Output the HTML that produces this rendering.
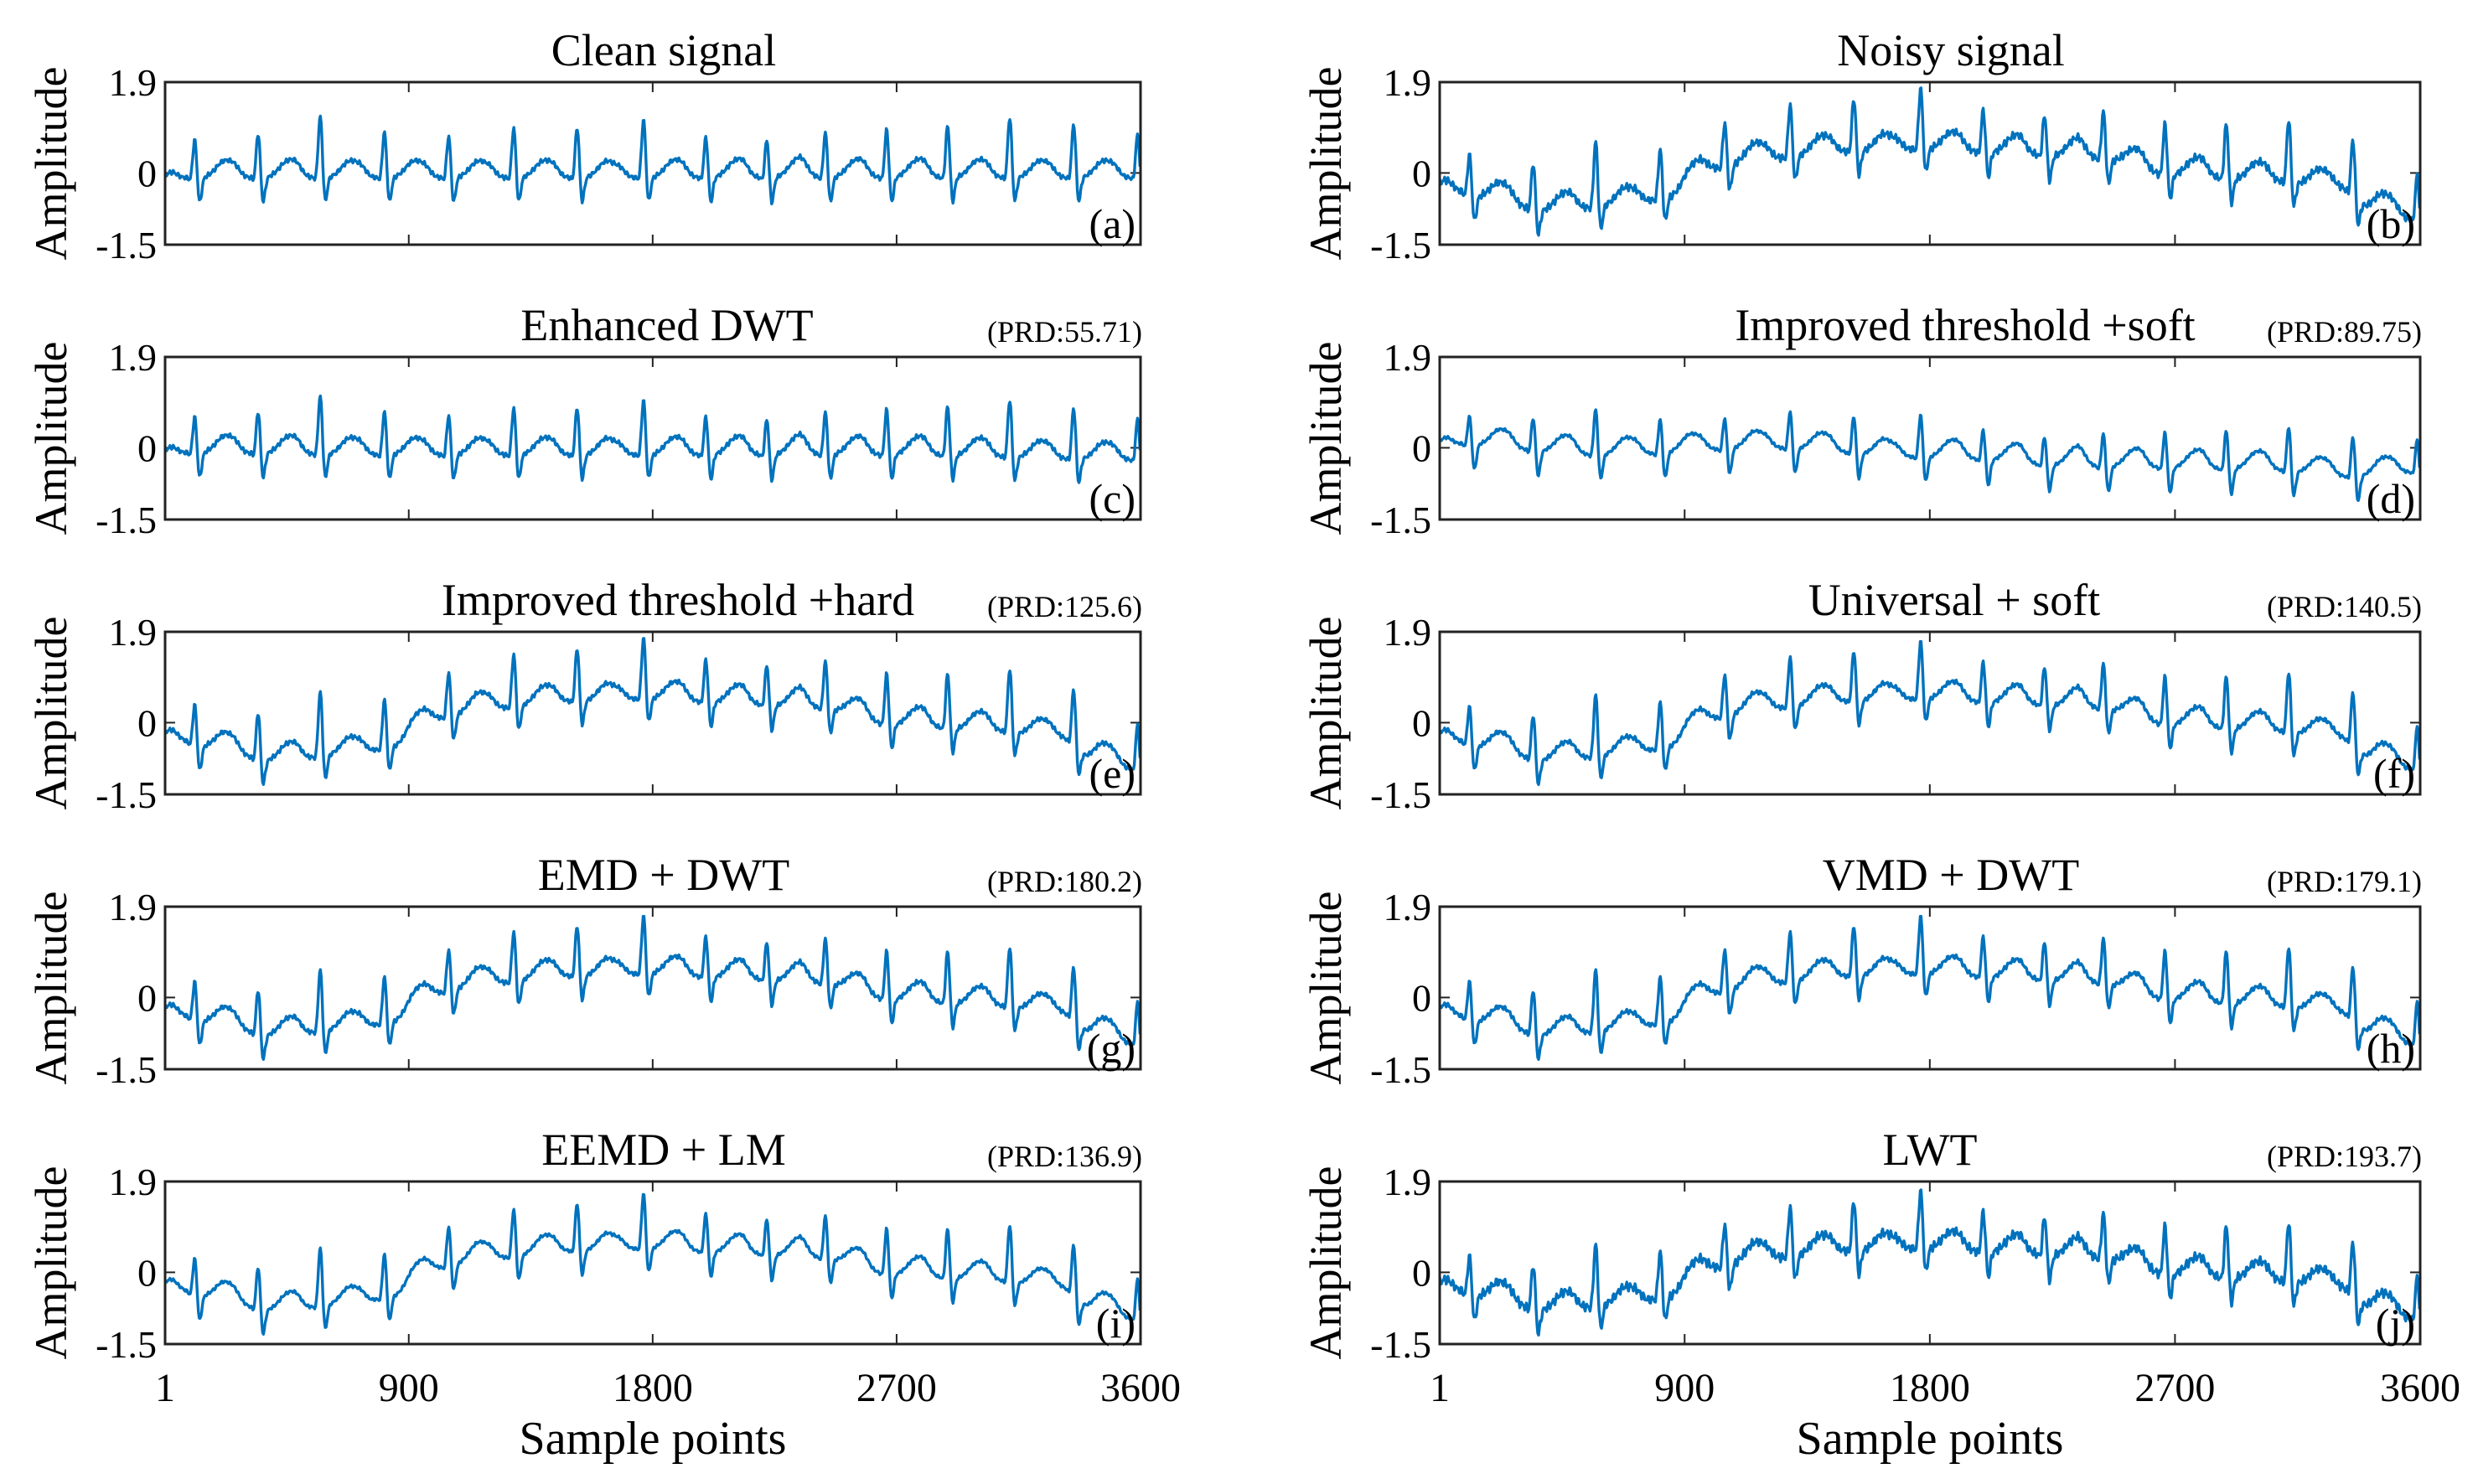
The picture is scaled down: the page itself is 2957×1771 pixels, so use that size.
<!DOCTYPE html>
<html><head><meta charset="utf-8"><style>
html,body{margin:0;padding:0;background:#fff;}
svg{display:block;font-family:"Liberation Serif",serif;}
</style></head><body>
<svg id="fig" width="2957" height="1771" viewBox="0 0 2957 1771"></svg>
<script>
// ---- data ----
const xTicks = [1, 900, 1800, 2700, 3600];
const yTicks = [1.9, 0, -1.5];
const beatPos = [111, 345, 574, 811, 1048, 1288, 1522, 1767, 1997, 2222, 2438, 2664, 2889, 3118, 3354, 3590];
const cleanAmps = [0.87, 1.0, 1.37, 1.04, 0.95, 1.12, 1.13, 1.29, 0.92, 0.87, 1.02, 1.08, 1.17, 1.34, 1.2, 0.98];
const cleanBase = [[0,-0.1],[3600,-0.1]];
const dwtBase = [[0,-0.1],[900,-0.15],[1800,-0.15],[2700,-0.15],[3600,-0.25]];
const softBase = [[0,0.1],[600,-0.15],[1200,0.0],[1800,-0.2],[2400,-0.4],[3000,-0.45],[3350,-0.6],[3600,-0.5]];
const noisyBase = [[0,-0.25],[150,-0.5],[400,-0.8],[700,-0.65],[850,-0.5],[1000,0.1],[1200,0.3],[1500,0.45],[1800,0.5],[2100,0.4],[2400,0.3],[2700,-0.05],[3000,-0.15],[3300,-0.3],[3420,-0.75],[3600,-1.0]];
const titles = ["Clean signal","Noisy signal","Enhanced DWT","Improved threshold +soft","Improved threshold +hard","Universal + soft","EMD + DWT","VMD + DWT","EEMD + LM","LWT"];
const prds = ["","","(PRD:55.71)","(PRD:89.75)","(PRD:125.6)","(PRD:140.5)","(PRD:180.2)","(PRD:179.1)","(PRD:136.9)","(PRD:193.7)"];
const letters = ["(a)","(b)","(c)","(d)","(e)","(f)","(g)","(h)","(i)","(j)"];
const baselines = [cleanBase,noisyBase,dwtBase,softBase,noisyBase,noisyBase,noisyBase,noisyBase,noisyBase,noisyBase];
const ampScale = [1.0,1.05,0.95,0.75,1.05,1.0,1.0,1.0,0.95,1.0];
const noiseLevel = [0.03,0.05,0.03,0.02,0.03,0.03,0.03,0.03,0.02,0.06];
const titleCenters = [792,2328,796,2345,809,2332,792,2328,792,2303];

// ---- layout ----
const NS="http://www.w3.org/2000/svg";
const svg=document.getElementById('fig');
const colL=[197,1718], colW=[1164,1170];
const rowTop=98, rowPitch=328, plotH=194;
const yMin=-1.5, yMax=1.9;
function mk(tag,attrs,parent){const e=document.createElementNS(NS,tag);for(const k in attrs)e.setAttribute(k,attrs[k]);(parent||svg).appendChild(e);return e;}
function interp(kn,t){for(let i=1;i<kn.length;i++){if(t<=kn[i][0]){const a=kn[i-1],b=kn[i];const f=(t-a[0])/(b[0]-a[0]);const s=(1-Math.cos(Math.PI*f))/2;return a[1]+(b[1]-a[1])*s;}}return kn[kn.length-1][1];}
function g(d,s){return Math.exp(-d*d/(2*s*s));}
function sig(p,t){
  let v=interp(baselines[p],t);
  for(let k=0;k<beatPos.length;k++){
    const d=t-beatPos[k];
    if(d<-250||d>300)continue;
    const a=cleanAmps[k]*ampScale[p];
    v+=0.12*g(d+85,18)-0.12*g(d+14,6)+a*g(d,8)-0.6*g(d-16,8)+0.35*g(d-110,32);
  }
  v+=noiseLevel[p]*(Math.sin(t*1.7)+Math.sin(t*0.63+1.3)*0.7);
  return v;
}
for(let p=0;p<10;p++){
  const c=p%2, r=Math.floor(p/2);
  const x0=colL[c], w=colW[c], y0=rowTop+r*rowPitch;
  const X=t=>x0+(t-1)/3599*w;
  const Y=v=>y0+(yMax-v)/(yMax-yMin)*plotH;
  const grp=mk('g',{});
  
  
  for(let i=1;i<4;i++){const tx=X(xTicks[i]);
    mk('line',{x1:tx,x2:tx,y1:y0,y2:y0+12,stroke:'#222','stroke-width':2},grp);
    mk('line',{x1:tx,x2:tx,y1:y0+plotH,y2:y0+plotH-12,stroke:'#222','stroke-width':2},grp);}
  mk('line',{x1:x0,x2:x0+12,y1:Y(0),y2:Y(0),stroke:'#222','stroke-width':2},grp);
  mk('line',{x1:x0+w,x2:x0+w-12,y1:Y(0),y2:Y(0),stroke:'#222','stroke-width':2},grp);
  let d='';
  for(let t=1;t<=3600;t+=3){let v=sig(p,t);v=Math.max(yMin,Math.min(yMax,v));d+=(t===1?'M':'L')+X(t).toFixed(1)+' '+Y(v).toFixed(1);}
  const path=mk('path',{d:d,fill:'none',stroke:'#0072BD','stroke-width':3.4,'stroke-linejoin':'round'},grp);
  
  
  const box=mk('rect',{x:x0,y:y0,width:w,height:plotH,fill:'none',stroke:'#222','stroke-width':3},grp);
  
  
  for(const v of yTicks){const tl=mk('text',{x:x0-10,y:Y(v)+16,'text-anchor':'end','font-size':46},grp);tl.textContent=(v===1.9?'1.9':v===0?'0':'-1.5');
    
    }
  const yl=mk('text',{x:0,y:0,'text-anchor':'middle','font-size':54,transform:'translate('+(x0-118)+','+(y0+plotH/2)+') rotate(-90)'},grp);
  yl.textContent='Amplitude';
  
  
  const tt=mk('text',{x:titleCenters[p],y:y0-20,'text-anchor':'middle','font-size':54},grp);
  tt.textContent=titles[p];
  
  
  if(prds[p]){const pr=mk('text',{x:x0+w+2,y:y0-18,'text-anchor':'end','font-size':36},grp);pr.textContent=prds[p];
    
    }
  const lt=mk('text',{x:x0+w-6,y:y0+plotH-8,'text-anchor':'end','font-size':50},grp);
  lt.textContent=letters[p];
  
  
  if(r===4){
    for(const tv of xTicks){const xl=mk('text',{x:X(tv),y:1672,'text-anchor':'middle','font-size':48},grp);xl.textContent=String(tv);
      
      }
    const xt=mk('text',{x:x0+w/2,y:1735,'text-anchor':'middle','font-size':56},grp);
    xt.textContent='Sample points';
    
    
  }
}
</script>
</body></html>
